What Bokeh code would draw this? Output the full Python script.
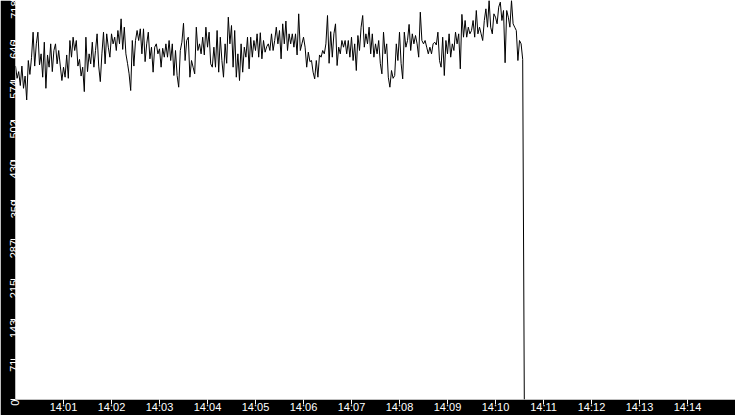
import numpy as np
import pandas as pd
from bokeh.plotting import figure
from bokeh.models import Range1d, FixedTicker, DatetimeTickFormatter
from bokeh.embed import file_html
from bokeh.resources import INLINE

# samples every 2 seconds starting 14:00:00
start = pd.Timestamp("2024-01-01 14:00:00")
step_s = 2
values = [
    600, 578, 590, 565, 600, 560, 582, 539, 610, 585, 615, 661, 600, 640, 661, 602,
    622, 580, 643, 560, 620, 598, 640, 590, 628, 640, 604, 628, 600, 574, 598, 580,
    620, 578, 646, 616, 652, 628, 646, 600, 612, 582, 598, 554, 652, 590, 622, 604,
    643, 598, 628, 658, 600, 572, 622, 661, 604, 658, 634, 616, 658, 640, 652, 628,
    664, 640, 685, 630, 670, 622, 605, 586, 556, 646, 600, 646, 664, 646, 667, 622,
    667,
    608, 640, 661, 613, 634, 589, 634, 640, 622, 631, 598, 632, 616, 640, 616, 646,
    610, 640, 583, 628, 583, 562, 628, 643, 677, 610, 646, 652, 580, 610, 598, 586,
    670, 628, 640, 622, 652, 620, 670, 634, 661, 604, 598, 634, 598, 664, 589, 652,
    610, 580, 640, 605, 688, 640, 673, 598, 664, 580, 622, 574, 640, 589, 634, 616,
    652, 595, 652, 616, 646, 628, 658, 616, 660, 613, 646, 625, 635,
    640, 628, 658, 628, 646, 670, 640, 664, 613, 676, 640, 681, 628, 658, 640, 658,
    634, 658, 620, 694, 628, 640, 652, 634, 598, 625, 608, 610, 589, 577, 610, 580,
    620, 616, 628, 622, 640, 691, 605, 662, 616, 658, 676, 601, 634, 622, 646, 634,
    646, 622, 646, 616, 652, 610, 640, 592, 655, 628, 670, 691, 634, 658, 640, 670,
    622, 658, 616, 640, 622, 646, 605, 586, 661, 622, 640, 580, 562, 592, 578,
    583, 640, 610, 661, 605, 577, 661, 634, 646, 675, 628, 658, 640, 655, 640, 616,
    697, 646, 640, 646, 634, 622, 634, 622, 640, 643, 638, 661, 610, 598, 652, 583,
    646, 622, 658, 616, 640, 628, 661, 640, 658, 595, 693, 652, 682, 652, 670, 658,
    664, 682, 652, 700, 658, 670, 658, 646, 682, 703, 670, 718, 670, 658, 694, 688,
    676, 706, 715, 682, 700, 606, 700, 688, 670, 718, 676, 670, 664, 610, 646, 640,
    612, 0,
]

y_ticks = [0, 71.8, 143.6, 215.4, 287.2, 359.0, 430.8, 502.6, 574.4, 646.2, 718.0]
y_labels = ["0", "71", "143", "215", "287", "359", "430", "502", "574", "646", "718"]
x_tick_minutes = [1, 2, 3, 4, 5, 6, 7, 8, 9, 10, 11, 12, 13, 14]

times = start + pd.to_timedelta(np.arange(len(values)) * step_s, unit="s")

p = figure(width=735, height=415, x_axis_type="datetime",
           x_range=Range1d(start, start + pd.Timedelta(minutes=15)),
           y_range=Range1d(0, 718),
           output_backend="svg", toolbar_location=None,
           background_fill_color="white", border_fill_color="black",
           min_border=0, min_border_left=15, min_border_bottom=15,
           outline_line_color=None)

p.line(times, values, line_color="black", line_width=1)

p.grid.visible = False

# x axis: one tick a minute
xt = [(start + pd.Timedelta(minutes=m)).value // 10**6 for m in x_tick_minutes]
p.xaxis.ticker = FixedTicker(ticks=xt)
fmt = "%H:%M"
p.xaxis.formatter = DatetimeTickFormatter(seconds=fmt, minsec=fmt, minutes=fmt,
                                          hourmin=fmt, hours=fmt)

# y axis: ten equal steps, labels truncated
p.yaxis.ticker = FixedTicker(ticks=y_ticks)
p.yaxis.major_label_overrides = {t: l for t, l in zip(y_ticks, y_labels)}
p.yaxis.major_label_orientation = np.pi / 2
p.yaxis.major_label_text_align = "right"

for ax in (p.xaxis, p.yaxis):
    ax.axis_line_color = None
    ax.major_tick_line_color = "white"
    ax.major_tick_in = 0
    ax.major_tick_out = 5
    ax.minor_tick_line_color = None
    ax.major_label_text_color = "white"
    ax.major_label_text_font = "Liberation Sans"
    ax.major_label_text_font_size = "11px"
    ax.major_label_standoff = -4

open("out.html", "w").write(file_html(p, INLINE))
